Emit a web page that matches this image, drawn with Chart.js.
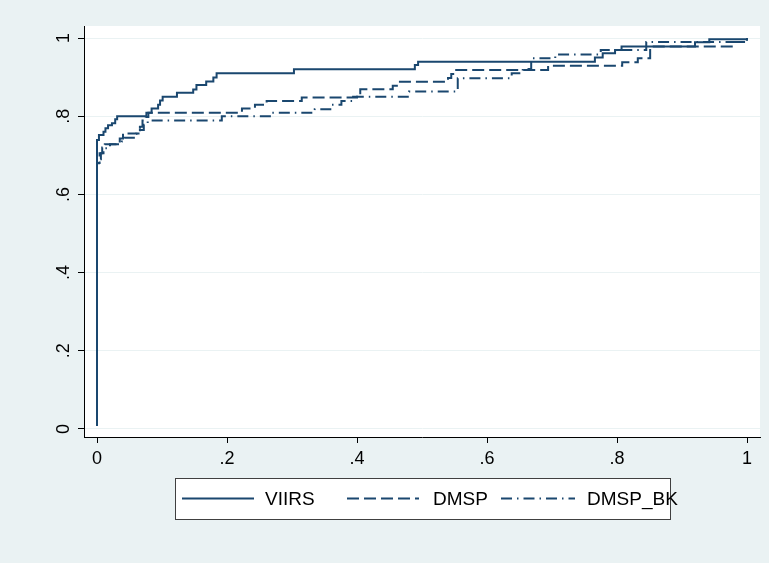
<!DOCTYPE html>
<html>
<head>
<meta charset="utf-8">
<script src="https://cdn.jsdelivr.net/npm/chart.js@4/dist/chart.umd.min.js"></script>
<style>
  html, body { margin: 0; padding: 0; background: #eaf2f3; }
  #wrap { width: 769px; height: 563px; }
</style>
</head>
<body>
<div id="wrap"><canvas id="c" width="769" height="563"></canvas></div>
<script>
// ROC points: false positive rate (x), true positive rate (y)
const viirsX = [0, 0, 0.003, 0.01, 0.013, 0.017, 0.023, 0.028, 0.031, 0.076, 0.084, 0.094, 0.097, 0.101, 0.123,
  0.148, 0.153, 0.168, 0.179, 0.184, 0.303, 0.489, 0.494, 0.766, 0.778, 0.797, 0.807, 0.92, 0.942, 1];
const viirsY = [0.008, 0.739, 0.752, 0.76, 0.769, 0.777, 0.782, 0.792, 0.8, 0.809, 0.82, 0.829, 0.84, 0.85, 0.86,
  0.868, 0.88, 0.889, 0.899, 0.91, 0.92, 0.931, 0.939, 0.95, 0.961, 0.969, 0.978, 0.989, 0.997, 1];

const dmspX = [0, 0, 0.004, 0.008, 0.012, 0.035, 0.04, 0.066, 0.07, 0.075, 0.079, 0.223, 0.243, 0.261, 0.315,
  0.4, 0.405, 0.455, 0.463, 0.54, 0.545, 0.548, 0.694, 0.808, 0.832, 0.851, 0.98, 1];
const dmspY = [0.008, 0.68, 0.705, 0.72, 0.728, 0.743, 0.756, 0.773, 0.789, 0.798, 0.809, 0.82, 0.829, 0.839, 0.848,
  0.859, 0.869, 0.878, 0.888, 0.898, 0.908, 0.918, 0.929, 0.938, 0.948, 0.978, 0.99, 1];

const bkX = [0, 0, 0.003, 0.006, 0.01, 0.02, 0.038, 0.042, 0.06, 0.066, 0.072, 0.078, 0.192, 0.266, 0.335,
  0.361, 0.376, 0.394, 0.48, 0.555, 0.638, 0.655, 0.668, 0.705, 0.775, 0.845, 1];
const bkY = [0.008, 0.67, 0.69, 0.705, 0.718, 0.728, 0.735, 0.745, 0.755, 0.765, 0.778, 0.789, 0.8, 0.809, 0.818,
  0.829, 0.839, 0.85, 0.863, 0.897, 0.91, 0.921, 0.948, 0.958, 0.969, 0.99, 1];

const seriesLabels = ["VIIRS", "DMSP", "DMSP_BK"];
const xTickValues = [0, 0.2, 0.4, 0.6, 0.8, 1];
const xTickLabels = ["0", ".2", ".4", ".6", ".8", "1"];
const yTickValues = [0, 0.2, 0.4, 0.6, 0.8, 1];
const yTickLabels = ["0", ".2", ".4", ".6", ".8", "1"];

const navy = "#1a476f";
const FONT = "'Liberation Sans', Arial, sans-serif";

const toPoints = (xs, ys) => xs.map((x, i) => ({ x: x, y: ys[i] }));

// background + white plot region
const bgPlugin = {
  id: "bg",
  beforeDraw(chart) {
    const { ctx, chartArea: a } = chart;
    ctx.save();
    ctx.fillStyle = "#eaf2f3";
    ctx.fillRect(0, 0, chart.width, chart.height);
    ctx.fillStyle = "#ffffff";
    ctx.fillRect(a.left, a.top, a.right - a.left, a.bottom - a.top);
    ctx.restore();
  }
};

// Stata-like boxed legend under the plot
const legendBox = {
  id: "legendBox",
  afterDraw(chart) {
    const ctx = chart.ctx;
    const box = { x: 175.5, y: 478.5, w: 495, h: 41 };
    const items = [
      { x0: 182, x1: 254, tx: 265 },
      { x0: 347, x1: 419, tx: 433 },
      { x0: 501, x1: 575, tx: 587 }
    ];
    const ly = 498.5;
    ctx.save();
    ctx.fillStyle = "#fff";
    ctx.fillRect(box.x, box.y, box.w, box.h);
    ctx.strokeStyle = "#404040";
    ctx.lineWidth = 1;
    ctx.strokeRect(box.x, box.y, box.w, box.h);
    chart.data.datasets.forEach((ds, i) => {
      const it = items[i];
      ctx.strokeStyle = ds.borderColor;
      ctx.lineWidth = ds.borderWidth;
      ctx.setLineDash(ds.borderDash || []);
      ctx.beginPath();
      ctx.moveTo(it.x0, ly);
      ctx.lineTo(it.x1, ly);
      ctx.stroke();
      ctx.setLineDash([]);
      ctx.fillStyle = "#000";
      ctx.font = "19px " + FONT;
      ctx.textBaseline = "middle";
      ctx.textAlign = "left";
      ctx.fillText(ds.label, it.tx, ly + 1);
    });
    ctx.restore();
  }
};

new Chart(document.getElementById("c"), {
  type: "line",
  data: {
    datasets: [
      { label: seriesLabels[0], data: toPoints(viirsX, viirsY), borderColor: navy, borderWidth: 2, borderDash: [] },
      { label: seriesLabels[1], data: toPoints(dmspX, dmspY), borderColor: navy, borderWidth: 2, borderDash: [12, 5] },
      { label: seriesLabels[2], data: toPoints(bkX, bkY), borderColor: navy, borderWidth: 2, borderDash: [11, 5, 1.5, 5] }
    ]
  },
  options: {
    responsive: false,
    animation: false,
    layout: { padding: { left: 0, right: 9, top: 26, bottom: 0 } },
    elements: {
      point: { radius: 0 },
      line: { tension: 0, stepped: "before", fill: false, borderCapStyle: "butt" }
    },
    plugins: { legend: { display: false }, tooltip: { enabled: false } },
    scales: {
      x: {
        type: "linear",
        min: -0.02,
        max: 1.02,
        afterBuildTicks: s => { s.ticks = xTickValues.map(v => ({ value: v })); },
        afterFit: s => { s.height = 126; },
        grid: { drawOnChartArea: false, drawTicks: true, tickLength: 6, tickColor: "#000" },
        border: { display: true, color: "#000", width: 1 },
        ticks: {
          color: "#000",
          font: { family: FONT, size: 18 },
          padding: 5,
          maxRotation: 0,
          minRotation: 0,
          callback: v => xTickLabels[xTickValues.indexOf(v)]
        }
      },
      y: {
        type: "linear",
        min: -0.0205,
        max: 1.0307,
        afterBuildTicks: s => { s.ticks = yTickValues.map(v => ({ value: v })); },
        afterFit: s => { s.width = 84; },
        grid: { color: "#eaf2f3", lineWidth: 1, drawTicks: true, tickLength: 6, tickColor: "#000" },
        border: { display: true, color: "#000", width: 1 },
        ticks: {
          color: "#000",
          font: { family: FONT, size: 18 },
          padding: 6,
          minRotation: 90,
          maxRotation: 90,
          crossAlign: "center",
          callback: v => yTickLabels[yTickValues.indexOf(v)]
        }
      }
    }
  },
  plugins: [bgPlugin, legendBox]
});
</script>
</body>
</html>
